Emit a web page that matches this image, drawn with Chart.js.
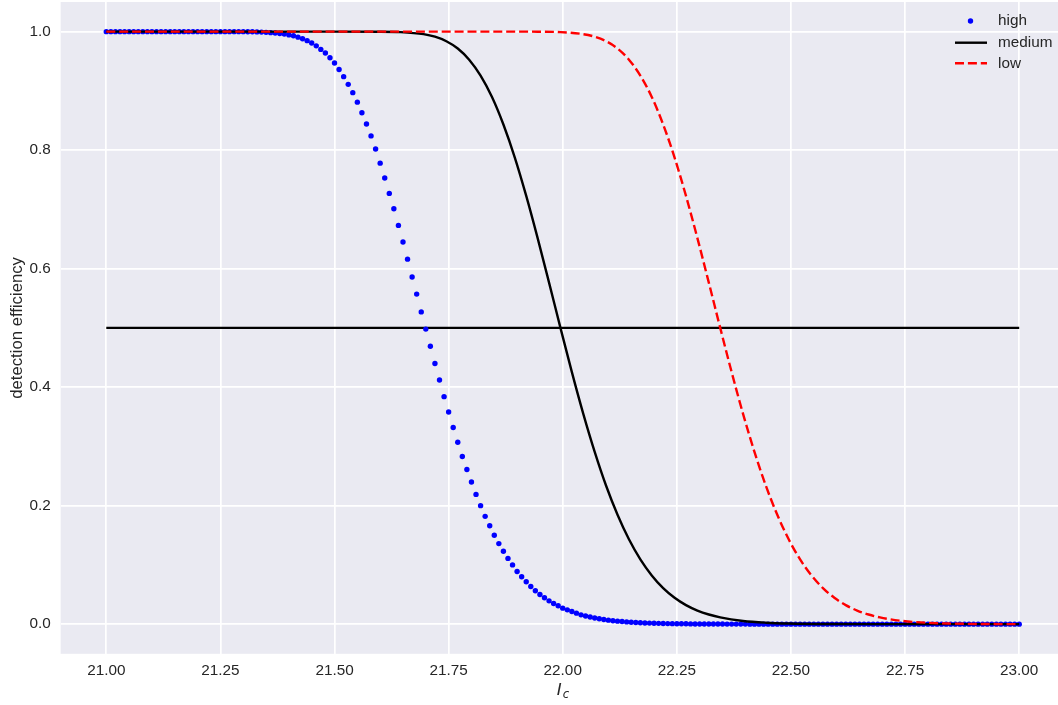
<!DOCTYPE html>
<html>
<head>
<meta charset="utf-8">
<script src="https://cdn.jsdelivr.net/npm/chart.js@4.4.1/dist/chart.umd.min.js"></script>
<style>
  html, body { margin: 0; padding: 0; background: #fff; overflow: hidden; }
  canvas { display: block; }
</style>
</head>
<body>
<canvas id="chart" width="1058" height="705"></canvas>
<script>
// axis ticks
const xTicks = [21.00, 21.25, 21.50, 21.75, 22.00, 22.25, 22.50, 22.75, 23.00]
const yTicks = [0.0, 0.2, 0.4, 0.6, 0.8, 1.0]
const seriesNames = ['high', 'medium', 'low']

// "high" - dots
const highX = [
  21.00, 21.01, 21.02, 21.03, 21.04, 21.05, 21.06, 21.07, 21.08, 21.09,
  21.10, 21.11, 21.12, 21.13, 21.14, 21.15, 21.16, 21.17, 21.18, 21.19,
  21.20, 21.21, 21.22, 21.23, 21.24, 21.25, 21.26, 21.27, 21.28, 21.29,
  21.30, 21.31, 21.32, 21.33, 21.34, 21.35, 21.36, 21.37, 21.38, 21.39,
  21.40, 21.41, 21.42, 21.43, 21.44, 21.45, 21.46, 21.47, 21.48, 21.49,
  21.50, 21.51, 21.52, 21.53, 21.54, 21.55, 21.56, 21.57, 21.58, 21.59,
  21.60, 21.61, 21.62, 21.63, 21.64, 21.65, 21.66, 21.67, 21.68, 21.69,
  21.70, 21.71, 21.72, 21.73, 21.74, 21.75, 21.76, 21.77, 21.78, 21.79,
  21.80, 21.81, 21.82, 21.83, 21.84, 21.85, 21.86, 21.87, 21.88, 21.89,
  21.90, 21.91, 21.92, 21.93, 21.94, 21.95, 21.96, 21.97, 21.98, 21.99,
  22.00, 22.01, 22.02, 22.03, 22.04, 22.05, 22.06, 22.07, 22.08, 22.09,
  22.10, 22.11, 22.12, 22.13, 22.14, 22.15, 22.16, 22.17, 22.18, 22.19,
  22.20, 22.21, 22.22, 22.23, 22.24, 22.25, 22.26, 22.27, 22.28, 22.29,
  22.30, 22.31, 22.32, 22.33, 22.34, 22.35, 22.36, 22.37, 22.38, 22.39,
  22.40, 22.41, 22.42, 22.43, 22.44, 22.45, 22.46, 22.47, 22.48, 22.49,
  22.50, 22.51, 22.52, 22.53, 22.54, 22.55, 22.56, 22.57, 22.58, 22.59,
  22.60, 22.61, 22.62, 22.63, 22.64, 22.65, 22.66, 22.67, 22.68, 22.69,
  22.70, 22.71, 22.72, 22.73, 22.74, 22.75, 22.76, 22.77, 22.78, 22.79,
  22.80, 22.81, 22.82, 22.83, 22.84, 22.85, 22.86, 22.87, 22.88, 22.89,
  22.90, 22.91, 22.92, 22.93, 22.94, 22.95, 22.96, 22.97, 22.98, 22.99,
  23.00
]
const highY = [
  1, 1, 1, 1, 1, 1, 1, 1, 1, 1,
  1, 1, 1, 1, 1, 1, 1, 1, 1, 1,
  1, 1, 1, 1, 1, 1, 1, 1, 1, 1,
  1, 0.9998, 0.9997, 0.9995, 0.9992, 0.9988, 0.9983, 0.9976, 0.9968, 0.9958,
  0.9945, 0.993, 0.9907, 0.988, 0.9848, 0.9808, 0.976, 0.970, 0.964, 0.956,
  0.947, 0.936, 0.924, 0.911, 0.897, 0.881, 0.863, 0.844, 0.824, 0.802,
  0.778, 0.753, 0.727, 0.701, 0.673, 0.645, 0.616, 0.586, 0.557, 0.527,
  0.498, 0.469, 0.440, 0.412, 0.384, 0.358, 0.332, 0.307, 0.283, 0.261,
  0.240, 0.219, 0.200, 0.182, 0.166, 0.150, 0.136, 0.123, 0.111, 0.100,
  0.089, 0.080, 0.0715, 0.0636, 0.0563, 0.050, 0.0445, 0.0394, 0.0349, 0.031,
  0.027, 0.0242, 0.0214, 0.0186, 0.0157, 0.0137, 0.012, 0.0104, 0.0091, 0.0079,
  0.0068, 0.0059, 0.0051, 0.0044, 0.0038, 0.0033, 0.0029, 0.0025, 0.0021, 0.0018,
  0.0016, 0.0014, 0.0012, 0.001, 0.0009, 0.0008, 0.0007, 0.0006, 0.0005, 0.0004,
  0.0004, 0.0003, 0.0003, 0.0002, 0.0002, 0.0002, 0.0001, 0.0001, 0.0001, 0.0001,
  0.0001, 0, 0, 0, 0, 0, 0, 0, 0, 0,
  0, 0, 0, 0, 0, 0, 0, 0, 0, 0,
  0, 0, 0, 0, 0, 0, 0, 0, 0, 0,
  0, 0, 0, 0, 0, 0, 0, 0, 0, 0,
  0, 0, 0, 0, 0, 0, 0, 0, 0, 0,
  0, 0, 0, 0, 0, 0, 0, 0, 0, 0,
  0
]

// "medium" - solid black
const mediumX = [
  21.00, 21.495, 21.595, 21.645, 21.695, 21.72, 21.745, 21.77, 21.795, 21.82,
  21.845, 21.87, 21.895, 21.92, 21.945, 21.97, 21.995, 22.02, 22.045, 22.07,
  22.095, 22.12, 22.145, 22.17, 22.195, 22.22, 22.245, 22.27, 22.295, 22.32,
  22.345, 22.395, 22.445, 22.495, 22.595, 22.695, 23.00
]
const mediumY = [
  1, 1, 0.9999, 0.9992, 0.9957, 0.9914, 0.9838, 0.9715, 0.9527, 0.9258,
  0.8897, 0.8433, 0.7875, 0.7227, 0.6515, 0.5764, 0.5, 0.4254, 0.355, 0.2908,
  0.2336, 0.1846, 0.1432, 0.1093, 0.0823, 0.0609, 0.0446, 0.0322, 0.023, 0.0163,
  0.0114, 0.0054, 0.0025, 0.0011, 0.0002, 0, 0
]

// "low" - dashed red
const lowX = [
  21.00, 21.845, 21.945, 21.995, 22.045, 22.07, 22.095, 22.12, 22.145, 22.17,
  22.195, 22.22, 22.245, 22.27, 22.295, 22.32, 22.345, 22.37, 22.395, 22.42,
  22.445, 22.47, 22.495, 22.52, 22.545, 22.57, 22.595, 22.62, 22.645, 22.67,
  22.695, 22.745, 22.795, 22.845, 22.945, 23.00
]
const lowY = [
  1, 1, 0.9999, 0.9992, 0.9957, 0.9914, 0.9838, 0.9715, 0.9527, 0.9258,
  0.8897, 0.8433, 0.7875, 0.7227, 0.6515, 0.5764, 0.5, 0.4254, 0.355, 0.2908,
  0.2336, 0.1846, 0.1432, 0.1093, 0.0823, 0.0609, 0.0446, 0.0322, 0.023, 0.0163,
  0.0114, 0.0054, 0.0025, 0.0011, 0.0002, 0.0001
]

// 50% reference line
const refX = [21.0, 23.0]
const refY = [0.5, 0.5]

const pts = (xs, ys) => xs.map((x, i) => ({ x, y: ys[i] }))

const FONT = '"Liberation Sans", Arial, sans-serif'
const TEXT = '#262626'
Chart.defaults.font.family = FONT
Chart.defaults.color = TEXT

const bgPlugin = {
  id: 'bg',
  beforeDraw(chart) {
    const { ctx, chartArea: a } = chart
    ctx.save()
    ctx.fillStyle = '#EAEAF2'
    ctx.fillRect(a.left, a.top, a.right - a.left, a.bottom - a.top)
    ctx.restore()
  }
}

// legend inside the axes (top right) + math-style x label
const extrasPlugin = {
  id: 'extras',
  afterDraw(chart) {
    const { ctx } = chart
    ctx.save()
    ctx.font = `15.3px ${FONT}`
    ctx.fillStyle = TEXT
    ctx.textBaseline = 'middle'
    const rows = [21, 42.7, 63.3]
    ctx.fillText(seriesNames[0], 998, rows[0])
    ctx.fillText(seriesNames[1], 998, rows[1])
    ctx.fillText(seriesNames[2], 998, rows[2])

    ctx.fillStyle = '#0000ff'
    ctx.beginPath()
    ctx.arc(970.5, rows[0], 2.7, 0, Math.PI * 2)
    ctx.fill()

    ctx.lineWidth = 2.4
    ctx.strokeStyle = '#000000'
    ctx.beginPath()
    ctx.moveTo(955, rows[1]); ctx.lineTo(987, rows[1])
    ctx.stroke()

    ctx.strokeStyle = '#ff0000'
    ctx.setLineDash([9, 3.9])
    ctx.beginPath()
    ctx.moveTo(955, rows[2]); ctx.lineTo(987, rows[2])
    ctx.stroke()
    ctx.setLineDash([])

    // x label: I_c
    ctx.fillStyle = TEXT
    ctx.textBaseline = 'alphabetic'
    ctx.font = 'italic 16.7px "DejaVu Sans"'
    const wI = ctx.measureText('I').width
    ctx.font = 'italic 11.7px "DejaVu Sans"'
    const wc = ctx.measureText('c').width
    const x0 = 563 - (wI + wc + 1) / 2
    ctx.font = 'italic 16.7px "DejaVu Sans"'
    ctx.fillText('I', x0, 694.5)
    ctx.font = 'italic 11.7px "DejaVu Sans"'
    ctx.fillText('c', x0 + wI + 1, 697.5)
    ctx.restore()
  }
}

new Chart(document.getElementById('chart'), {
  type: 'line',
  data: {
    datasets: [
      {
        label: seriesNames[2],
        data: pts(lowX, lowY),
        borderColor: '#ff0000',
        borderWidth: 2.4,
        borderDash: [9, 3.9],
        pointRadius: 0,
        cubicInterpolationMode: 'monotone',
        order: 0,
      },
      {
        label: seriesNames[1],
        data: pts(mediumX, mediumY),
        borderColor: '#000000',
        borderWidth: 2.4,
        pointRadius: 0,
        cubicInterpolationMode: 'monotone',
        order: 1,
      },
      {
        label: seriesNames[0],
        data: pts(highX, highY),
        showLine: false,
        pointRadius: 2.7,
        pointBorderWidth: 0,
        pointBackgroundColor: '#0000ff',
        pointBorderColor: '#0000ff',
        order: 2,
      },
      {
        label: '',
        data: pts(refX, refY),
        borderColor: '#000000',
        borderWidth: 2.4,
        pointRadius: 0,
        order: 3,
      },
    ]
  },
  options: {
    responsive: false,
    animation: false,
    events: [],
    layout: { autoPadding: false, padding: { top: 2, right: 0, bottom: 0, left: 0 } },
    plugins: {
      legend: { display: false },
      tooltip: { enabled: false },
    },
    scales: {
      x: {
        type: 'linear',
        min: 20.9,
        max: 23.085,
        afterBuildTicks: axis => { axis.ticks = xTicks.map(v => ({ value: v })) },
        afterFit: s => { s.height = 51.2; s.paddingLeft = 0; s.paddingRight = 0 },
        grid: { color: '#ffffff', lineWidth: 1.7, drawTicks: false },
        border: { display: false },
        ticks: {
          padding: 8,
          maxRotation: 0,
          autoSkip: false,
          font: { size: 15.3 },
          color: TEXT,
          callback: v => v.toFixed(2),
        },
      },
      y: {
        type: 'linear',
        min: -0.05,
        max: 1.05,
        afterBuildTicks: axis => { axis.ticks = yTicks.map(v => ({ value: v })) },
        afterFit: s => { s.width = 60.65; s.paddingTop = 0; s.paddingBottom = 0 },
        grid: { color: '#ffffff', lineWidth: 1.7, drawTicks: false },
        border: { display: false },
        ticks: {
          padding: 10,
          autoSkip: false,
          font: { size: 15.3 },
          color: TEXT,
          callback: v => v.toFixed(1),
        },
        title: {
          display: true,
          text: 'detection efficiency',
          font: { size: 16.7 },
          color: TEXT,
          padding: { top: 7.5, bottom: 7.5 },
        },
      },
    },
  },
  plugins: [bgPlugin, extrasPlugin],
})
</script>
</body>
</html>
